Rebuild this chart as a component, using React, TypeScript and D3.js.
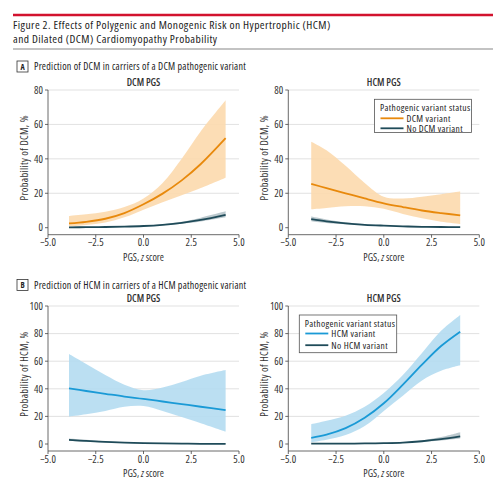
import React, { useRef, useEffect } from "react";
import * as d3 from "d3";

// PGS z-score sample points for each panel
const xsDcmPgsA = [-3.9, -3, -2, -1, 0, 1, 2, 3, 4.3];
const xsHcmPgsA = [-3.8, -3, -2, -1, 0, 1, 2, 3, 4];
const xsDcmPgsB = [-3.9, -3, -2, -1, 0, 1, 2, 3, 4.3];
const xsHcmPgsB = [-3.8, -3, -2, -1, 0, 1, 2, 3, 4];

// Panel A, DCM PGS
const aLeftVar = [2.5, 3.4, 5.2, 8.5, 13.6, 19.8, 27.5, 37, 52];
const aLeftVarHi = [6.8, 7.8, 9.3, 12, 17, 26, 40, 56, 74];
const aLeftVarLo = [0.8, 1.6, 3, 6, 10.5, 14.8, 18.8, 23, 29];
const aLeftNo = [0.2, 0.3, 0.4, 0.6, 1, 1.7, 2.8, 4.5, 7.5];
const aLeftNoHi = [0.4, 0.5, 0.6, 0.8, 1.2, 2, 3.4, 5.8, 9.5];
const aLeftNoLo = [0.1, 0.2, 0.3, 0.5, 0.8, 1.4, 2.3, 3.6, 6];

// Panel A, HCM PGS
const aRightVar = [25.4, 23, 20, 17, 14.2, 12, 10, 8.5, 7.2];
const aRightVarHi = [50, 45, 36, 26, 18, 17, 18, 19.5, 21];
const aRightVarLo = [10.7, 11.5, 12.5, 12.5, 11, 8, 5.5, 3.5, 2.2];
const aRightNo = [5, 3.7, 2.5, 1.7, 1.2, 0.8, 0.5, 0.4, 0.3];
const aRightNoHi = [6.5, 4.8, 3.2, 2.1, 1.4, 1, 0.8, 0.7, 0.6];
const aRightNoLo = [3.8, 2.8, 2, 1.4, 1, 0.6, 0.3, 0.2, 0.1];

// Panel B, DCM PGS
const bLeftVar = [40.3, 38.4, 36.4, 34.4, 32.7, 30.8, 28.9, 27, 24.6];
const bLeftVarHi = [65.2, 58, 50, 43, 39, 41, 45, 49.5, 53.6];
const bLeftVarLo = [19.8, 21.5, 24, 27, 27.5, 24, 19.5, 15, 8.9];
const bLeftNo = [3, 2.2, 1.5, 1, 0.7, 0.4, 0.25, 0.15, 0.1];
const bLeftNoHi = [4, 3, 2, 1.3, 0.9, 0.6, 0.4, 0.3, 0.3];
const bLeftNoLo = [2.2, 1.6, 1.1, 0.7, 0.5, 0.3, 0.15, 0.05, 0];

// Panel B, HCM PGS
const bRightVar = [4.5, 6.8, 11.5, 19, 29.5, 43, 57.5, 71, 81.4];
const bRightVarHi = [14.3, 16.8, 20.5, 27, 37, 50, 66, 82, 93.5];
const bRightVarLo = [1.2, 3, 6.5, 13, 24, 35, 46, 53, 57];
const bRightNo = [0.2, 0.25, 0.3, 0.4, 0.6, 1, 2, 3.5, 5.5];
const bRightNoHi = [0.3, 0.35, 0.4, 0.5, 0.8, 1.3, 2.6, 5, 8.5];
const bRightNoLo = [0.1, 0.15, 0.2, 0.3, 0.45, 0.8, 1.5, 2.6, 4];

const xTicks = [-5, -2.5, 0, 2.5, 5];
const yTicksA = [0, 20, 40, 60, 80];
const yTicksB = [0, 20, 40, 60, 80, 100];

const FONT = "'Open Sans', sans-serif";
const ORANGE = "#e8890c";
const ORANGE_BAND = "#fcd9ad";
const BLUE = "#1a9ad6";
const BLUE_BAND = "#b4dcf1";
const DARK = "#1f4b59";
const DARK_BAND = "#8fa5ae";

interface Legend {
  x: number; y: number; w: number; h: number;
  titleDy: number; itemDy: number; gap: number;
  a: string; b: string;
}

interface Panel {
  x0: number;
  yTop: number;
  yZero: number;
  axisY: number;
  yMax: number;
  yTicks: number[];
  title: string;
  ylab: string;
  xs: number[];
  v: number[];
  vHi: number[];
  vLo: number[];
  n: number[];
  nHi: number[];
  nLo: number[];
  color: string;
  band: string;
  legend?: Legend;
}

const panels: Panel[] = [
  {
    x0: 48, yTop: 90, yZero: 227.7, axisY: 234.7, yMax: 80, yTicks: yTicksA,
    title: "DCM PGS", ylab: "Probability of DCM, %", xs: xsDcmPgsA,
    v: aLeftVar, vHi: aLeftVarHi, vLo: aLeftVarLo, n: aLeftNo, nHi: aLeftNoHi, nLo: aLeftNoLo,
    color: ORANGE, band: ORANGE_BAND,
  },
  {
    x0: 288.3, yTop: 90, yZero: 227.7, axisY: 234.7, yMax: 80, yTicks: yTicksA,
    title: "HCM PGS", ylab: "Probability of DCM, %", xs: xsHcmPgsA,
    v: aRightVar, vHi: aRightVarHi, vLo: aRightVarLo, n: aRightNo, nHi: aRightNoHi, nLo: aRightNoLo,
    color: ORANGE, band: ORANGE_BAND,
    legend: { x: 374.5, y: 99.3, w: 97, h: 33.2, titleDy: 12, itemDy: 19, gap: 10,
      a: "DCM variant", b: "No DCM variant" },
  },
  {
    x0: 48, yTop: 306, yZero: 444, axisY: 451, yMax: 100, yTicks: yTicksB,
    title: "DCM PGS", ylab: "Probability of HCM, %", xs: xsDcmPgsB,
    v: bLeftVar, vHi: bLeftVarHi, vLo: bLeftVarLo, n: bLeftNo, nHi: bLeftNoHi, nLo: bLeftNoLo,
    color: BLUE, band: BLUE_BAND,
  },
  {
    x0: 288.3, yTop: 306, yZero: 444, axisY: 451, yMax: 100, yTicks: yTicksB,
    title: "HCM PGS", ylab: "Probability of HCM, %", xs: xsHcmPgsB,
    v: bRightVar, vHi: bRightVarHi, vLo: bRightVarLo, n: bRightNo, nHi: bRightNoHi, nLo: bRightNoLo,
    color: BLUE, band: BLUE_BAND,
    legend: { x: 299.3, y: 315, w: 97.4, h: 37.7, titleDy: 11.8, itemDy: 18.5, gap: 11.7,
      a: "HCM variant", b: "No HCM variant" },
  },
];

const App: React.FC = () => {
  const svgRef = useRef<SVGSVGElement | null>(null);

  useEffect(() => {
    const svg = d3.select(svgRef.current);
    svg.selectAll("*").remove();
    svg.style("font-family", FONT).style("font-stretch", "75%");

    // header
    svg.append("line").attr("x1", 13).attr("x2", 493).attr("y1", 15).attr("y2", 15)
      .attr("stroke", "#d2122e").attr("stroke-width", 2.5);
    svg.append("text").attr("x", 13).attr("y", 29).attr("font-size", 11.5).attr("letter-spacing", 0.42)
      .attr("fill", "#222")
      .text("Figure 2. Effects of Polygenic and Monogenic Risk on Hypertrophic (HCM)");
    svg.append("text").attr("x", 13).attr("y", 43).attr("font-size", 11.5).attr("letter-spacing", 0.42)
      .attr("fill", "#222")
      .text("and Dilated (DCM) Cardiomyopathy Probability");
    svg.append("line").attr("x1", 13).attr("x2", 493).attr("y1", 49).attr("y2", 49)
      .attr("stroke", "#888").attr("stroke-width", 1.2);

    const section = (label: string, y: number, text: string) => {
      svg.append("rect").attr("x", 17).attr("y", y - 5.5).attr("width", 11).attr("height", 11)
        .attr("fill", "white").attr("stroke", "#333").attr("stroke-width", 0.8);
      svg.append("text").attr("x", 22.5).attr("y", y + 3).attr("text-anchor", "middle")
        .attr("font-size", 8).attr("font-weight", "bold").attr("fill", "#222").text(label);
      svg.append("text").attr("x", 34).attr("y", y + 3.5).attr("font-size", 10)
        .attr("letter-spacing", 0.25).attr("fill", "#222").text(text);
    };
    section("A", 66.5, "Prediction of DCM in carriers of a DCM pathogenic variant");
    section("B", 285, "Prediction of HCM in carriers of a HCM pathogenic variant");

    panels.forEach((p) => {
      const g = svg.append("g");
      const x = d3.scaleLinear().domain([-5, 5]).range([p.x0, p.x0 + 191]);
      const y = d3.scaleLinear().domain([0, p.yMax]).range([p.yZero, p.yTop]);

      // grid
      p.yTicks.filter((t) => t > 0).forEach((t) => {
        g.append("line").attr("x1", x(-5)).attr("x2", x(5)).attr("y1", y(t)).attr("y2", y(t))
          .attr("stroke", "#d9d9d9").attr("stroke-width", 0.8);
      });

      // axes
      g.append("line").attr("x1", x(-5)).attr("x2", x(-5)).attr("y1", y(p.yMax)).attr("y2", p.axisY)
        .attr("stroke", "#444").attr("stroke-width", 0.8);
      g.append("line").attr("x1", x(-5)).attr("x2", x(5)).attr("y1", p.axisY).attr("y2", p.axisY)
        .attr("stroke", "#444").attr("stroke-width", 0.8);
      p.yTicks.forEach((t) => {
        g.append("line").attr("x1", x(-5) - 3).attr("x2", x(-5)).attr("y1", y(t)).attr("y2", y(t))
          .attr("stroke", "#444").attr("stroke-width", 0.8);
        g.append("text").attr("x", x(-5) - 5).attr("y", y(t) + 3.7).attr("text-anchor", "end")
          .attr("font-size", 10.5).attr("fill", "#333").text(t);
      });
      xTicks.forEach((t) => {
        g.append("line").attr("x1", x(t)).attr("x2", x(t)).attr("y1", p.axisY).attr("y2", p.axisY + 3)
          .attr("stroke", "#444").attr("stroke-width", 0.8);
        g.append("text").attr("x", x(t)).attr("y", p.axisY + 11.5).attr("text-anchor", "middle")
          .attr("font-size", 10.5).attr("fill", "#333").text(d3.format(".1f")(t));
      });

      const xl = g.append("text").attr("x", x(0)).attr("y", p.axisY + 26).attr("text-anchor", "middle")
        .attr("font-size", 10).attr("fill", "#333");
      xl.append("tspan").text("PGS, ");
      xl.append("tspan").attr("font-style", "italic").text("z");
      xl.append("tspan").text(" score");

      g.append("text")
        .attr("transform", `translate(${p.x0 - 20},${(p.yTop + p.yZero) / 2 - 1}) rotate(-90)`)
        .attr("text-anchor", "middle").attr("font-size", 10.5).attr("letter-spacing", 0.3)
        .attr("fill", "#333").text(p.ylab);

      g.append("text").attr("x", x(0)).attr("y", p.yTop - 4).attr("text-anchor", "middle")
        .attr("font-size", 10).attr("font-weight", 600).attr("fill", "#333").text(p.title);

      const idx = d3.range(p.xs.length);
      const curve = d3.curveCatmullRom.alpha(0.5);
      const band = (hi: number[], lo: number[]) =>
        d3.area<number>().x((i) => x(p.xs[i])).y0((i) => y(lo[i])).y1((i) => y(hi[i]))
          .curve(curve)(idx);
      const line = (v: number[]) =>
        d3.line<number>().x((i) => x(p.xs[i])).y((i) => y(v[i])).curve(curve)(idx);

      g.append("path").attr("d", band(p.vHi, p.vLo)).attr("fill", p.band).attr("opacity", 0.9);
      g.append("path").attr("d", band(p.nHi, p.nLo)).attr("fill", DARK_BAND).attr("opacity", 0.6);
      g.append("path").attr("d", line(p.v)).attr("fill", "none").attr("stroke", p.color).attr("stroke-width", 1.8);
      g.append("path").attr("d", line(p.n)).attr("fill", "none").attr("stroke", DARK).attr("stroke-width", 1.8);

      if (p.legend) {
        const L = p.legend;
        g.append("rect").attr("x", L.x).attr("y", L.y).attr("width", L.w).attr("height", L.h)
          .attr("fill", "white").attr("stroke", "#555").attr("stroke-width", 0.8);
        g.append("text").attr("x", L.x + 5.5).attr("y", L.y + L.titleDy).attr("font-size", 9.5)
          .attr("letter-spacing", 0.35).attr("fill", "#222").text("Pathogenic variant status");
        [[L.a, p.color], [L.b, DARK]].forEach(([txt, c], i) => {
          const ly = L.y + L.itemDy + i * L.gap;
          g.append("line").attr("x1", L.x + 6).attr("x2", L.x + 29).attr("y1", ly).attr("y2", ly)
            .attr("stroke", c).attr("stroke-width", 1.8);
          g.append("text").attr("x", L.x + 32).attr("y", ly + 3.3).attr("font-size", 9.5)
            .attr("letter-spacing", 0.35).attr("fill", "#222").text(txt);
        });
      }
    });
  }, []);

  return (
    <svg ref={svgRef} width={500} height={483}
      style={{ position: "absolute", left: 0, top: 0, background: "white" }} />
  );
};

export default App;
